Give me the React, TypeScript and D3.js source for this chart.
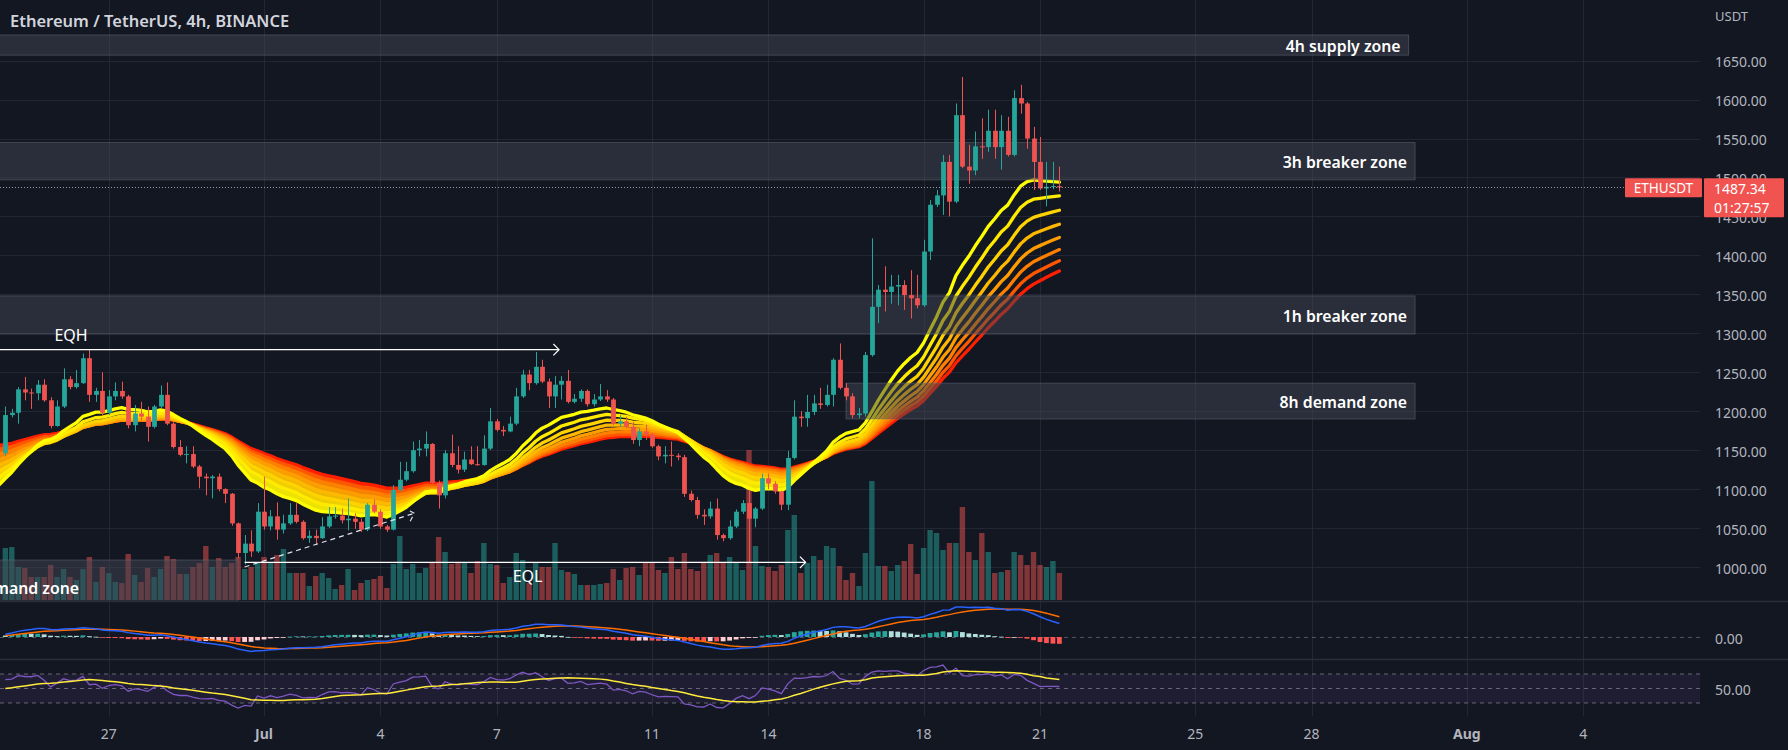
import React from 'react';
import * as d3 from 'd3';

// ---------------- data ----------------
const firstBarUtc = Date.UTC(2022, 5, 24, 8);
const barHours = 4;
const firstOpen = 1146;

const closes = [1195,1198,1228,1224,1223,1234,1214,1181,1206,1241,
 1231,1236,1268,1221,1226,1198,1219,1226,1219,1182,
 1197,1193,1180,1206,1221,1184,1154,1144,1145,1129,
 1116,1114,1116,1100,1094,1056,1018,1030,1020,1071,
 1052,1065,1048,1056,1067,1058,1037,1040,1037,1052,
 1065,1066,1060,1062,1058,1048,1080,1071,1052,1048,
 1099,1112,1123,1150,1152,1158,1108,1092,1146,1131,
 1125,1138,1132,1131,1152,1187,1176,1174,1184,1219,
 1247,1236,1257,1238,1219,1234,1239,1212,1216,1226,
 1209,1215,1219,1215,1184,1187,1180,1163,1174,1170,
 1155,1142,1144,1143,1141,1094,1086,1067,1065,1075,
 1041,1037,1052,1071,1082,1062,1075,1114,1107,1097,
 1080,1140,1193,1191,1199,1210,1208,1221,1266,1230,
 1219,1195,1197,1272,1334,1356,1353,1360,1362,1349,
 1345,1336,1405,1465,1477,1520,1469,1580,1514,1509,
 1540,1539,1560,1539,1560,1529,1602,1595,1550,1520,
 1486,1488,1489,1487.34];

const highs = [1206,1203,1231,1244,1229,1240,1241,1218,1214,1255,
 1245,1253,1274,1279,1230,1250,1227,1237,1238,1221,
 1208,1212,1206,1208,1233,1237,1186,1163,1155,1155,
 1131,1120,1118,1120,1101,1095,1057,1041,1047,1082,
 1116,1073,1083,1067,1082,1082,1060,1047,1048,1064,
 1077,1077,1075,1088,1069,1062,1082,1087,1074,1054,
 1105,1135,1135,1161,1163,1174,1159,1111,1150,1170,
 1155,1148,1155,1155,1169,1204,1190,1181,1193,1230,
 1253,1253,1276,1266,1242,1245,1245,1253,1222,1228,
 1228,1222,1235,1227,1217,1195,1193,1186,1178,1183,
 1172,1157,1155,1161,1146,1144,1098,1090,1074,1084,
 1088,1043,1060,1074,1086,1098,1077,1120,1120,1110,
 1098,1149,1214,1200,1221,1221,1230,1234,1268,1287,
 1236,1223,1204,1276,1422,1362,1386,1375,1375,1368,
 1381,1375,1420,1471,1484,1529,1529,1595,1629,1542,
 1559,1576,1587,1587,1580,1578,1612,1619,1597,1565,
 1552,1520,1520,1514];

const lows = [1142,1192,1184,1214,1203,1214,1212,1178,1180,1204,
 1228,1229,1235,1212,1212,1195,1195,1214,1216,1178,
 1174,1188,1161,1178,1204,1182,1152,1142,1133,1127,
 1101,1092,1088,1097,1082,1053,1011,1003,1013,1018,
 1048,1047,1035,1043,1054,1056,1035,1031,1028,1036,
 1050,1062,1056,1047,1049,1045,1046,1069,1049,1045,
 1047,1097,1110,1121,1142,1142,1107,1075,1088,1128,
 1120,1122,1131,1130,1130,1150,1174,1168,1173,1182,
 1217,1227,1234,1236,1204,1204,1215,1210,1210,1212,
 1206,1206,1213,1212,1182,1180,1178,1158,1155,1163,
 1153,1137,1133,1129,1137,1090,1084,1062,1054,1062,
 1035,1033,1035,1050,1068,1006,1051,1073,1100,1094,
 1073,1073,1138,1180,1180,1195,1203,1206,1206,1228,
 1214,1191,1191,1193,1270,1313,1328,1338,1336,1330,
 1319,1332,1334,1394,1462,1452,1450,1467,1512,1492,
 1503,1524,1533,1524,1510,1527,1527,1582,1537,1484,
 1484,1463,1485,1482];

const volumesK = [52,53,33,32,23,23,23,35,23,31,
 23,20,31,43,18,33,27,18,17,46,
 25,18,32,23,31,44,41,26,26,33,
 37,54,33,42,33,37,43,31,33,38,
 43,38,45,51,27,27,27,14,24,27,
 22,11,15,31,10,17,20,21,24,12,
 36,64,31,36,27,32,38,63,48,36,
 38,38,27,39,57,36,35,17,23,47,
 40,17,37,33,33,57,30,28,26,15,
 15,15,16,17,31,20,32,33,25,38,
 37,30,27,43,31,47,31,29,37,45,
 47,37,43,38,30,150,54,34,33,29,
 35,70,85,27,37,44,40,54,52,34,
 20,27,14,47,119,34,34,29,35,39,
 56,26,52,70,67,50,57,57,93,48,
 40,67,48,27,28,30,48,45,35,48,
 35,33,39,27];

const emaLengths = [20, 25, 30, 35, 40, 45, 50, 55];
const emaStartValues = [1105, 1115, 1123, 1131, 1138, 1145, 1151, 1156];
const macdStartValues = [1140, 1136, 3]; // fast EMA, slow EMA, signal
const rsiStartValues = [7, 6.5, 49]; // avg gain, avg loss, MA padding

const priceTicks = [1000, 1050, 1100, 1150, 1200, 1250, 1300, 1350, 1400, 1450, 1500, 1550, 1600, 1650];
const timeTickDates = [
  Date.UTC(2022, 5, 27), Date.UTC(2022, 6, 1), Date.UTC(2022, 6, 4), Date.UTC(2022, 6, 7),
  Date.UTC(2022, 6, 11), Date.UTC(2022, 6, 14), Date.UTC(2022, 6, 18), Date.UTC(2022, 6, 21),
  Date.UTC(2022, 6, 25), Date.UTC(2022, 6, 28), Date.UTC(2022, 7, 1), Date.UTC(2022, 7, 4)];
const timeTickLabels = ['27', 'Jul', '4', '7', '11', '14', '18', '21', '25', '28', 'Aug', '4'];

const zoneNames = ['4h supply zone', '3h breaker zone', '1h breaker zone', '8h demand zone', 'demand zone'];
const zoneTops = [1683, 1545, 1348, 1236, 1009];
const zoneBottoms = [1657, 1497, 1299, 1190, 940];
const zoneStarts = [Date.UTC(2022, 5, 20), Date.UTC(2022, 5, 20), Date.UTC(2022, 5, 20), Date.UTC(2022, 6, 16), Date.UTC(2022, 5, 20)];
const zoneEnds = [Date.UTC(2022, 6, 30, 12), Date.UTC(2022, 6, 30, 16), Date.UTC(2022, 6, 30, 16), Date.UTC(2022, 6, 30, 16), Date.UTC(2022, 5, 30, 8)];
const zoneLabelEnds = [Date.UTC(2022, 6, 30, 12), Date.UTC(2022, 6, 30, 16), Date.UTC(2022, 6, 30, 16), Date.UTC(2022, 6, 30, 16), Date.UTC(2022, 5, 26, 10, 30)];

const eqhPrice = 1279;
const eqhTimes = [Date.UTC(2022, 5, 23), Date.UTC(2022, 6, 8, 14, 30), Date.UTC(2022, 5, 26, 0, 40)];
const eqlPrice = 1006;
const eqlTimes = [Date.UTC(2022, 5, 30, 12), Date.UTC(2022, 6, 14, 23), Date.UTC(2022, 6, 7, 19)];
const trendTimes = [Date.UTC(2022, 5, 30, 12), Date.UTC(2022, 6, 4, 21)];
const trendPrices = [1000, 1069];

const symbolName = 'ETHUSDT';
const lastPrice = 1487.34;
const countdown = '01:27:57';
const titleText = 'Ethereum / TetherUS, 4h, BINANCE';

// ---------------- helpers ----------------
function emaSeries(values: number[], len: number, seed: number) {
  const a = 2 / (len + 1);
  let prev = seed;
  return values.map(v => (prev = a * v + (1 - a) * prev));
}

function chevron(x1: number, y1: number, x2: number, y2: number, len = 8, ang = Math.PI / 4) {
  const a = Math.atan2(y2 - y1, x2 - x1);
  const p1 = [x2 - len * Math.cos(a - ang), y2 - len * Math.sin(a - ang)];
  const p2 = [x2 - len * Math.cos(a + ang), y2 - len * Math.sin(a + ang)];
  return `M${p1[0]},${p1[1]}L${x2},${y2}L${p2[0]},${p2[1]}`;
}

const BG = '#131722';
const UP = '#26a69a';
const DOWN = '#ef5350';
const AXIS_TEXT = '#b2b5be';
const FONT = '"Noto Sans", "Open Sans", sans-serif';
const ribbonColors = ['#ffff00', '#ffea00', '#ffd200', '#ffb800', '#ff9c00', '#ff7f00', '#ff5600', '#ff1e00'];

export default function App() {
  const n = closes.length;
  const times = d3.range(n).map(i => new Date(firstBarUtc + i * barHours * 3600e3));
  const opens = closes.map((c, i) => (i === 0 ? firstOpen : closes[i - 1]));

  const W = 1788, H = 750;
  const chartRight = 1700;
  const mainBottom = 601, macdBottom = 659, rsiBottom = 716;

  const x = d3.scaleUtc()
    .domain([new Date(Date.UTC(2022, 5, 27)), new Date(Date.UTC(2022, 7, 4))])
    .range([108.8, 1583.2]);
  const y = d3.scaleLinear().domain([1000, 1650]).range([567, 60.65]);
  const yVol = d3.scaleLinear().domain([0, 150]).range([600, 450]);
  const step = x(times[1]) - x(times[0]);
  const bodyW = step * 0.74;

  // EMA ribbon
  const emas = emaLengths.map((len, k) => emaSeries(closes, len, emaStartValues[k]));
  const prevX = x(new Date(firstBarUtc - barHours * 3600e3));
  const ribbonXs = [prevX, ...times.map(t => x(t))];
  const ribbonVals = emas.map((e, k) => [emaStartValues[k], ...e]);
  const idx = d3.range(n + 1);

  // MACD
  const e12 = emaSeries(closes, 12, macdStartValues[0]);
  const e26 = emaSeries(closes, 26, macdStartValues[1]);
  const macd = e12.map((v, i) => v - e26[i]);
  const signal = emaSeries(macd, 9, macdStartValues[2]);
  const hist = macd.map((v, i) => v - signal[i]);
  const macdMax = d3.max(macd) as number;
  const yM = d3.scaleLinear().domain([0, macdMax]).range([637, 607]);

  // RSI
  let ag = rsiStartValues[0], al = rsiStartValues[1];
  const rsi = closes.map((c, i) => {
    const ch = c - opens[i];
    ag = (ag * 13 + Math.max(ch, 0)) / 14;
    al = (al * 13 + Math.max(-ch, 0)) / 14;
    return 100 - 100 / (1 + ag / al);
  });
  const rsiMa = rsi.map((_, i) => {
    let s = 0;
    for (let k = i - 13; k <= i; k++) s += k >= 0 ? rsi[k] : rsiStartValues[2];
    return s / 14;
  });
  const yR = d3.scaleLinear().domain([30, 70]).range([703, 674]);

  const lineGen = (vals: number[], sy: (v: number) => number) =>
    d3.line<number>().x(i => x(times[i])).y(i => sy(vals[i]))(d3.range(n)) || '';

  const yLast = y(lastPrice);

  return (
    <svg width={W} height={H} style={{ position: 'absolute', left: 0, top: 0, background: BG }}
      xmlns="http://www.w3.org/2000/svg">
      <defs>
        <clipPath id="mainClip"><rect x={0} y={0} width={chartRight} height={mainBottom} /></clipPath>
        <clipPath id="macdClip"><rect x={0} y={mainBottom} width={chartRight} height={macdBottom - mainBottom} /></clipPath>
        <clipPath id="rsiClip"><rect x={0} y={macdBottom} width={chartRight} height={rsiBottom - macdBottom} /></clipPath>
      </defs>
      <rect x={0} y={0} width={W} height={H} fill={BG} />

      {/* grid */}
      <g stroke="rgba(42,46,57,0.75)" strokeWidth={1}>
        {priceTicks.map(p => (
          <line key={'hg' + p} x1={0} x2={chartRight} y1={Math.round(y(p)) + 0.5} y2={Math.round(y(p)) + 0.5} />
        ))}
        {timeTickDates.map(t => (
          <line key={'vg' + t} x1={Math.round(x(new Date(t))) + 0.5} x2={Math.round(x(new Date(t))) + 0.5} y1={0} y2={rsiBottom} />
        ))}
      </g>

      <g clipPath="url(#mainClip)">
        {/* volume */}
        {volumesK.map((v, i) => (
          <rect key={'v' + i} x={x(times[i]) - bodyW / 2 - 0.3} width={bodyW + 0.6} y={yVol(v)} height={600 - yVol(v)}
            fill={closes[i] >= opens[i] ? UP : DOWN} fillOpacity={0.5} />
        ))}

        {/* ribbon fills (bearish ordering) */}
        {ribbonVals.slice(0, 7).map((fast, k) => {
          const slow = ribbonVals[k + 1];
          const area = d3.area<number>()
            .defined(i => fast[i] < slow[i])
            .x(i => ribbonXs[i])
            .y0(i => y(slow[i]))
            .y1(i => y(fast[i]))(idx) || '';
          return <path key={'rf' + k} d={area} fill={d3.interpolateRgb(ribbonColors[k], ribbonColors[k + 1])(0.5)} fillOpacity={0.92} />;
        })}
        {/* ribbon lines */}
        {ribbonVals.map((vals, k) => k).reverse().map(k => {
          const d = d3.line<number>().x(i => ribbonXs[i]).y(i => y(ribbonVals[k][i]))(idx) || '';
          return <path key={'rl' + k} d={d} fill="none" stroke={ribbonColors[k]} strokeWidth={3.3} strokeLinejoin="round" strokeLinecap="round" />;
        })}

        {/* zones */}
        {zoneNames.map((z, k) => {
          const x0 = x(new Date(zoneStarts[k]));
          const x1 = x(new Date(zoneEnds[k]));
          const yt = y(zoneTops[k]);
          const yb = y(zoneBottoms[k]);
          return (
            <rect key={'z' + k} x={x0} y={yt} width={x1 - x0} height={yb - yt}
              fill="rgba(66,70,82,0.5)" stroke="rgba(110,114,126,0.45)" strokeWidth={1} />
          );
        })}

        {/* candles */}
        {closes.map((c, i) => {
          const o = opens[i];
          const up = c >= o;
          const col = up ? UP : DOWN;
          const cx = Math.round(x(times[i])) + 0.5;
          const top = y(Math.max(o, c));
          const bot = y(Math.min(o, c));
          return (
            <g key={'c' + i}>
              <line x1={cx} x2={cx} y1={y(highs[i])} y2={y(lows[i])} stroke={col} strokeWidth={1} />
              <rect x={cx - bodyW / 2} y={top} width={bodyW} height={Math.max(1, bot - top)} fill={col} />
            </g>
          );
        })}

        {/* zone labels */}
        {zoneNames.map((z, k) => (
          <text key={'zl' + k} x={x(new Date(zoneLabelEnds[k])) - 8} y={(y(zoneTops[k]) + y(zoneBottoms[k])) / 2 + 1}
            textAnchor="end" dominantBaseline="central" fill="#ffffff" fontFamily={FONT} fontWeight={600} fontSize={15.8}>{z}</text>
        ))}

        {/* EQH */}
        <line x1={x(new Date(eqhTimes[0]))} x2={x(new Date(eqhTimes[1]))} y1={y(eqhPrice)} y2={y(eqhPrice)} stroke="#ffffff" strokeWidth={1.2} />
        <path d={chevron(0, y(eqhPrice), x(new Date(eqhTimes[1])), y(eqhPrice))} fill="none" stroke="#ffffff" strokeWidth={1.2} />
        <text x={x(new Date(eqhTimes[2]))} y={y(eqhPrice) - 15} textAnchor="middle" dominantBaseline="central"
          fill="#ffffff" fontFamily={FONT} fontSize={16}>EQH</text>

        {/* EQL */}
        <line x1={x(new Date(eqlTimes[0]))} x2={x(new Date(eqlTimes[1]))} y1={y(eqlPrice)} y2={y(eqlPrice)} stroke="#ffffff" strokeWidth={1.2} />
        <path d={chevron(0, y(eqlPrice), x(new Date(eqlTimes[1])), y(eqlPrice))} fill="none" stroke="#ffffff" strokeWidth={1.2} />
        <text x={x(new Date(eqlTimes[2]))} y={y(eqlPrice) + 14} textAnchor="middle" dominantBaseline="central"
          fill="#ffffff" fontFamily={FONT} fontSize={16}>EQL</text>

        {/* dashed trend line */}
        {(() => {
          const x1 = x(new Date(trendTimes[0])), y1 = y(trendPrices[0]);
          const x2 = x(new Date(trendTimes[1])), y2 = y(trendPrices[1]);
          return (
            <g stroke="#e0e3eb" strokeWidth={1.2} fill="none" strokeDasharray="5,4">
              <line x1={x1} y1={y1} x2={x2} y2={y2} />
              <path d={chevron(x1, y1, x2, y2, 9)} />
            </g>
          );
        })()}

        {/* last price line */}
        <line x1={0} x2={chartRight} y1={Math.round(yLast) + 0.5} y2={Math.round(yLast) + 0.5}
          stroke="#b8bcc6" strokeOpacity={0.8} strokeWidth={1} strokeDasharray="1,2" />
      </g>

      {/* pane separators */}
      <line x1={0} x2={W} y1={mainBottom + 0.5} y2={mainBottom + 0.5} stroke="#2a2e39" strokeWidth={1.5} />
      <line x1={0} x2={W} y1={macdBottom + 0.5} y2={macdBottom + 0.5} stroke="#2a2e39" strokeWidth={1.5} />

      {/* MACD pane */}
      <g clipPath="url(#macdClip)">
        <line x1={0} x2={chartRight} y1={yM(0) + 0.5} y2={yM(0) + 0.5} stroke="#787b86" strokeOpacity={0.6} strokeDasharray="4,4" />
        {hist.map((h, i) => {
          const prev = i === 0 ? h : hist[i - 1];
          const col = h >= 0 ? (h > prev ? '#26a69a' : '#b2dfdb') : (h < prev ? '#ff5252' : '#ffcdd2');
          const y0 = yM(0), y1 = yM(h);
          return <rect key={'h' + i} x={x(times[i]) - bodyW / 2} width={bodyW} y={Math.min(y0, y1)} height={Math.max(0.8, Math.abs(y1 - y0))} fill={col} />;
        })}
        <path d={lineGen(signal, yM)} fill="none" stroke="#ff6d00" strokeWidth={1.5} />
        <path d={lineGen(macd, yM)} fill="none" stroke="#2962ff" strokeWidth={1.5} />
      </g>

      {/* RSI pane */}
      <g clipPath="url(#rsiClip)">
        <rect x={0} y={yR(70)} width={chartRight} height={yR(30) - yR(70)} fill="rgba(126,87,194,0.1)" />
        {[70, 50, 30].map(v => (
          <line key={'rl' + v} x1={0} x2={chartRight} y1={yR(v)} y2={yR(v)} stroke="#787b86" strokeOpacity={0.8} strokeDasharray="4,4" />
        ))}
        <path d={lineGen(rsi, yR)} fill="none" stroke="#7e57c2" strokeWidth={1.3} />
        <path d={lineGen(rsiMa, yR)} fill="none" stroke="#ffeb3b" strokeWidth={1.5} />
      </g>

      {/* title */}
      <text x={10} y={20} dominantBaseline="central" fill="#d1d4dc" fontFamily={FONT} fontWeight={600} fontSize={16.5}>{titleText}</text>

      {/* price axis */}
      <text x={1715} y={16} dominantBaseline="central" fill={AXIS_TEXT} fontFamily={FONT} fontSize={13}>USDT</text>
      {priceTicks.map(p => (
        <text key={'pt' + p} x={1715} y={y(p) + 1} dominantBaseline="central" fill={AXIS_TEXT} fontFamily={FONT} fontSize={14}>{d3.format('.2f')(p)}</text>
      ))}
      <text x={1715} y={yM(0) + 1} dominantBaseline="central" fill={AXIS_TEXT} fontFamily={FONT} fontSize={14}>{d3.format('.2f')(0)}</text>
      <text x={1715} y={yR(50) + 1} dominantBaseline="central" fill={AXIS_TEXT} fontFamily={FONT} fontSize={14}>{d3.format('.2f')(50)}</text>

      {/* last price labels */}
      <rect x={1625} y={yLast - 9} width={77} height={19} fill="#f05350" rx={1} />
      <text x={1663.5} y={yLast + 1} textAnchor="middle" dominantBaseline="central" fill="#ffffff" fontFamily={FONT} fontSize={13.5}>{symbolName}</text>
      <rect x={1704} y={yLast - 9} width={80} height={39} fill="#f05350" rx={1} />
      <text x={1714} y={yLast + 1} dominantBaseline="central" fill="#ffffff" fontFamily={FONT} fontSize={14}>{d3.format('.2f')(lastPrice)}</text>
      <text x={1714} y={yLast + 20} dominantBaseline="central" fill="#ffffff" fontFamily={FONT} fontSize={14}>{countdown}</text>

      {/* time axis */}
      {timeTickDates.map((t, k) => (
        <text key={'tt' + t} x={x(new Date(t))} y={733} textAnchor="middle" dominantBaseline="central" fill={AXIS_TEXT}
          fontFamily={FONT} fontSize={14} fontWeight={timeTickLabels[k].length === 3 ? 700 : 400}>{timeTickLabels[k]}</text>
      ))}
    </svg>
  );
}
